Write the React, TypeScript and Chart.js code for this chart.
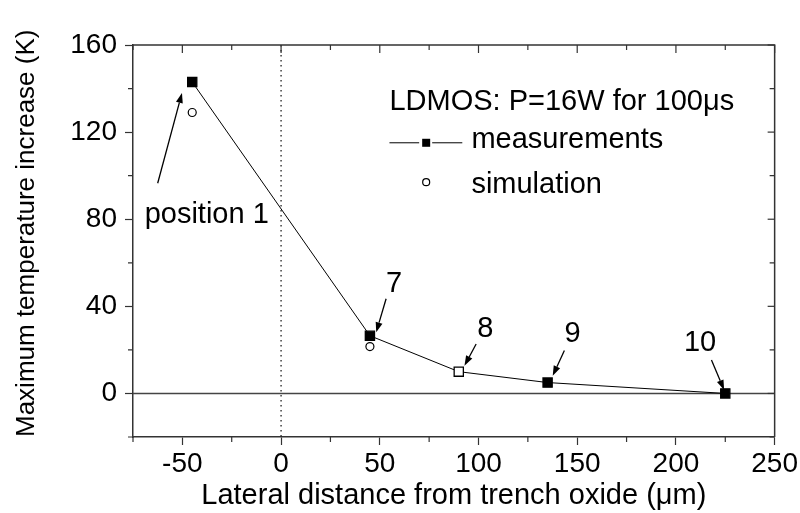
import React, { useEffect, useRef } from "react";
import { Chart, registerables } from "chart.js";

Chart.register(...registerables);

// ---- data ----
const measX = [-45, 45, 90, 135, 225];
const measY = [143, 26.5, 10, 5, 0];
const measFilled = [true, true, false, true, true];
const simX = [-45, 45];
const simY = [129, 21.5];
const xTickValues = [-50, 0, 50, 100, 150, 200, 250];
const yTickValues = [0, 40, 80, 120, 160];
const xRange = [-75, 250];
const yRange = [-20, 160];
const xMinorStep = 25;
const yMinorStep = 20;

const legendTitle = "LDMOS: P=16W for 100\u03bcs";
const legendNames = ["measurements", "simulation"];
const xTitle = "Lateral distance from trench oxide (\u03bcm)";
const yTitle = "Maximum temperature increase (K)";
const labelTexts = ["position 1", "7", "8", "9", "10"];

// annotation layout (in data units)
const labelLayout = [
  { x: -69.1, y: 78.1, align: "left", from: [-62.5, 96.5], to: [-50.2, 138] },
  { x: 57.2, y: 46.4, align: "center", from: [53.2, 43.5], to: [48.2, 28.1] },
  { x: 103.4, y: 25.8, align: "center", from: [98.8, 22.7], to: [92.9, 12.7] },
  { x: 147.7, y: 23.5, align: "center", from: [143.5, 19.7], to: [137.6, 8.1] },
  { x: 212.2, y: 19.3, align: "center", from: [218, 15.4], to: [224.4, 1.6] },
];

const FONT = "'Liberation Sans', Arial, Helvetica, sans-serif";
const INK = "#000";
const AXIS = "#333";

function drawArrow(ctx: CanvasRenderingContext2D, x1: number, y1: number, x2: number, y2: number) {
  const ang = Math.atan2(y2 - y1, x2 - x1);
  const len = 10;
  const hw = 3.5;
  const bx = x2 - len * Math.cos(ang);
  const by = y2 - len * Math.sin(ang);
  ctx.beginPath();
  ctx.moveTo(x1, y1);
  ctx.lineTo(bx, by);
  ctx.lineWidth = 1.3;
  ctx.strokeStyle = INK;
  ctx.stroke();
  ctx.beginPath();
  ctx.moveTo(x2, y2);
  ctx.lineTo(bx + hw * Math.sin(ang), by - hw * Math.cos(ang));
  ctx.lineTo(bx - hw * Math.sin(ang), by + hw * Math.cos(ang));
  ctx.closePath();
  ctx.fillStyle = INK;
  ctx.fill();
}

const decorPlugin = {
  id: "decor",
  beforeDatasetsDraw(chart: any) {
    const { ctx, chartArea: a, scales } = chart;
    const x = scales.x;
    const y = scales.y;
    ctx.save();
    const y0 = y.getPixelForValue(0);
    ctx.strokeStyle = "#444";
    ctx.lineWidth = 1.5;
    ctx.beginPath();
    ctx.moveTo(a.left, y0);
    ctx.lineTo(a.right, y0);
    ctx.stroke();
    const x0 = x.getPixelForValue(0);
    ctx.setLineDash([1.5, 3.5]);
    ctx.lineWidth = 1.3;
    ctx.strokeStyle = "#222";
    ctx.beginPath();
    ctx.moveTo(x0, a.top);
    ctx.lineTo(x0, a.bottom);
    ctx.stroke();
    ctx.restore();
  },
  afterDraw(chart: any) {
    const { ctx, chartArea: a, scales } = chart;
    const x = scales.x;
    const y = scales.y;
    ctx.save();
    // frame top & right
    ctx.strokeStyle = AXIS;
    ctx.lineWidth = 1.5;
    ctx.beginPath();
    ctx.moveTo(a.left, a.top);
    ctx.lineTo(a.right, a.top);
    ctx.lineTo(a.right, a.bottom);
    ctx.stroke();
    // ticks
    ctx.lineWidth = 1.2;
    for (let v = xRange[0]; v <= xRange[1] + 1e-9; v += xMinorStep) {
      const px = x.getPixelForValue(v);
      const major = xTickValues.includes(v);
      const L = major ? 8 : 5;
      ctx.beginPath();
      ctx.moveTo(px, a.top);
      ctx.lineTo(px, a.top + L);
      if (!major) {
        ctx.moveTo(px, a.bottom);
        ctx.lineTo(px, a.bottom + L);
      }
      ctx.stroke();
    }
    for (let v = yRange[0]; v <= yRange[1] + 1e-9; v += yMinorStep) {
      const py = y.getPixelForValue(v);
      const major = yTickValues.includes(v);
      const L = major ? 7 : 5;
      ctx.beginPath();
      ctx.moveTo(a.right, py);
      ctx.lineTo(a.right - L, py);
      if (!major) {
        ctx.moveTo(a.left, py);
        ctx.lineTo(a.left - L, py);
      }
      ctx.stroke();
    }
    // annotations
    ctx.font = `29px ${FONT}`;
    ctx.fillStyle = INK;
    ctx.textBaseline = "alphabetic";
    labelLayout.forEach((l, i) => {
      ctx.textAlign = l.align as CanvasTextAlign;
      ctx.fillStyle = INK;
      ctx.fillText(labelTexts[i], x.getPixelForValue(l.x), y.getPixelForValue(l.y));
      drawArrow(
        ctx,
        x.getPixelForValue(l.from[0]),
        y.getPixelForValue(l.from[1]),
        x.getPixelForValue(l.to[0]),
        y.getPixelForValue(l.to[1])
      );
    });
    // legend
    ctx.textAlign = "left";
    ctx.fillStyle = INK;
    ctx.fillText(legendTitle, x.getPixelForValue(54.9), y.getPixelForValue(130.1));
    const ly = y.getPixelForValue(115.1);
    const lx1 = x.getPixelForValue(54.9);
    const lx2 = x.getPixelForValue(91.8);
    const lxm = x.getPixelForValue(73.5);
    ctx.strokeStyle = INK;
    ctx.lineWidth = 1;
    ctx.beginPath();
    ctx.moveTo(lx1, ly);
    ctx.lineTo(lxm - 7, ly);
    ctx.moveTo(lxm + 6, ly);
    ctx.lineTo(lx2, ly);
    ctx.stroke();
    ctx.fillRect(lxm - 4, ly - 4, 8, 8);
    ctx.fillText(legendNames[0], x.getPixelForValue(96.4), y.getPixelForValue(112.5));
    const cy = y.getPixelForValue(97);
    ctx.beginPath();
    ctx.arc(lxm, cy, 3.5, 0, Math.PI * 2);
    ctx.fillStyle = "#fff";
    ctx.fill();
    ctx.lineWidth = 1.2;
    ctx.stroke();
    ctx.fillStyle = INK;
    ctx.fillText(legendNames[1], x.getPixelForValue(96.4), y.getPixelForValue(92));
    ctx.restore();
  },
};

export default function App() {
  const ref = useRef<HTMLCanvasElement>(null);
  useEffect(() => {
    if (!ref.current) return;
    const chart = new Chart(ref.current, {
      type: "scatter",
      data: {
        datasets: [
          {
            label: legendNames[0],
            data: measX.map((v, i) => ({ x: v, y: measY[i] })),
            showLine: true,
            borderColor: INK,
            borderWidth: 1,
            pointStyle: "rect",
            pointRadius: 6.5,
            pointBorderWidth: 1.3,
            pointBorderColor: INK,
            pointBackgroundColor: measFilled.map((f) => (f ? INK : "#fff")),
          },
          {
            label: legendNames[1],
            data: simX.map((v, i) => ({ x: v, y: simY[i] })),
            showLine: false,
            pointStyle: "circle",
            pointRadius: 4,
            pointBorderWidth: 1.2,
            pointBorderColor: INK,
            pointBackgroundColor: "#fff",
          },
        ],
      },
      options: {
        animation: false,
        responsive: true,
        maintainAspectRatio: false,
        layout: { padding: { top: 45, right: 24, left: 0, bottom: 0 } },
        plugins: { legend: { display: false }, tooltip: { enabled: false } },
        scales: {
          x: {
            type: "linear",
            min: xRange[0],
            max: xRange[1],
            afterBuildTicks: (s: any) => {
              s.ticks = xTickValues.map((v) => ({ value: v }));
            },
            afterFit: (s: any) => {
              s.height = 76;
            },
            ticks: { color: INK, font: { size: 28, family: FONT }, padding: 2, maxRotation: 0 },
            grid: { drawOnChartArea: false, drawTicks: true, tickLength: 8, tickColor: AXIS, tickWidth: 1.2 },
            border: { display: true, color: AXIS, width: 1.5 },
            title: { display: true, text: xTitle, color: INK, font: { size: 29, family: FONT }, padding: { top: 0, bottom: 0 } },
          },
          y: {
            type: "linear",
            min: yRange[0],
            max: yRange[1],
            afterBuildTicks: (s: any) => {
              s.ticks = yTickValues.map((v) => ({ value: v }));
            },
            afterFit: (s: any) => {
              s.width = 133;
            },
            ticks: { color: INK, font: { size: 28, family: FONT }, padding: 8 },
            grid: { drawOnChartArea: false, drawTicks: true, tickLength: 8, tickColor: AXIS, tickWidth: 1.2 },
            border: { display: true, color: AXIS, width: 1.5 },
            title: { display: true, text: yTitle, align: "start", color: INK, font: { size: 26, family: FONT }, padding: { top: 11, bottom: 0 } },
          },
        },
      },
      plugins: [decorPlugin],
    } as any);
    return () => chart.destroy();
  }, []);
  return (
    <div style={{ position: "absolute", left: 0, top: 0, width: 800, height: 513, background: "#fff" }}>
      <canvas ref={ref} />
    </div>
  );
}
